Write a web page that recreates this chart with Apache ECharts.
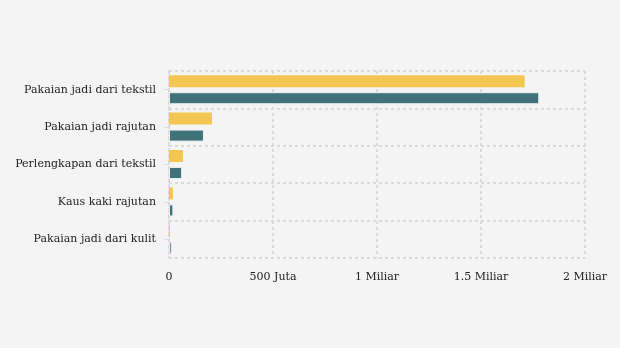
<!DOCTYPE html>
<html><head><meta charset="utf-8">
<script src="https://cdn.jsdelivr.net/npm/echarts@6/dist/echarts.min.js"></script>
<style>html,body{margin:0;padding:0;background:#f4f4f4;}#c{width:620px;height:348px;}</style>
</head><body><div id="c"></div>
<script>
var categories = ["Pakaian jadi dari tekstil","Pakaian jadi rajutan","Perlengkapan dari tekstil","Kaus kaki rajutan","Pakaian jadi dari kulit"];
var seriesA = [1.71e9, 0.207e9, 0.067e9, 0.019e9, 0.004e9];
var seriesB = [1.78e9, 0.168e9, 0.063e9, 0.021e9, 0.013e9];
var tickLabels = {0:"0", 500000000:"500 Juta", 1000000000:"1 Miliar", 1500000000:"1.5 Miliar", 2000000000:"2 Miliar"};
var chart = echarts.init(document.getElementById('c'), null, {renderer:'canvas'});
var font = "'DejaVu Serif', serif";
var gridLine = {color:'#dadada',type:[3,3],width:2};
chart.setOption({
  backgroundColor:'#f4f4f4',
  animation:false,
  grid:{left:169,right:35,top:71,bottom:90,show:false},
  xAxis:{type:'value',min:0,max:2e9,interval:5e8,
    axisLine:{show:false},axisTick:{show:false},
    splitLine:{show:true,lineStyle:gridLine},
    axisLabel:{fontFamily:font,fontSize:11,color:'#222',margin:14,formatter:function(v){return tickLabels[v]!==undefined?tickLabels[v]:v;}}},
  yAxis:{type:'category',inverse:true,data:categories,
    axisLine:{show:true,lineStyle:gridLine},
    axisTick:{show:true,alignWithLabel:true,length:5,lineStyle:{color:'#dddddd'}},
    splitLine:{show:true,lineStyle:gridLine},
    axisLabel:{fontFamily:font,fontSize:11,color:'#222',margin:13}},
  series:[
    {type:'bar',data:seriesA,barWidth:12,barGap:'42%',itemStyle:{color:'#f2c650'}},
    {type:'bar',data:seriesB,barWidth:12,itemStyle:{color:'#40727a',borderColor:'#e8eef0',borderWidth:1}}
  ]
});
</script>
</body></html>
